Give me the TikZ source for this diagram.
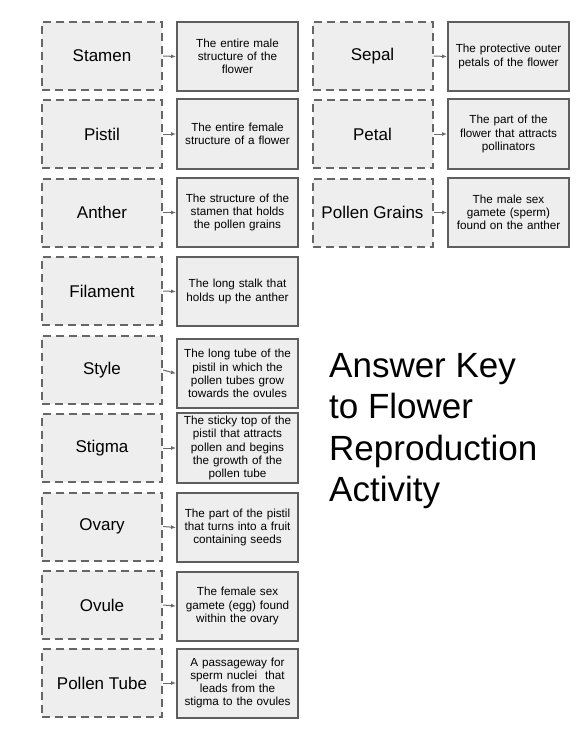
\documentclass[tikz,border=0pt]{standalone}
\usepackage{fontspec}
\setmainfont{Liberation Sans}
\usetikzlibrary{arrows.meta}
\definecolor{boxfill}{HTML}{EEEEEE}
\definecolor{dashcol}{HTML}{666666}
\definecolor{solidcol}{HTML}{5E5E5E}
\definecolor{arrcol}{HTML}{6A6A6A}
\tikzset{
  termbox/.style={draw=dashcol, fill=boxfill, line width=2pt, dash pattern=on 8pt off 5pt,
    minimum width=120pt, minimum height=68pt, inner sep=0pt,
    font=\fontsize{17}{20}\selectfont},
  defbox/.style={draw=solidcol, fill=boxfill, line width=2pt,
    minimum width=121pt, minimum height=69pt, inner sep=0pt, align=center,
    text width=114pt, font=\fontsize{11.7}{13.3}\selectfont},
  link/.style={draw=arrcol, line width=1pt, -{Latex[length=5pt,width=4pt]}},
}
\begin{document}
\begin{tikzpicture}[x=1pt,y=-1pt]
\useasboundingbox (0,0) rectangle (585,749);
% left column
\node[termbox] (t1) at (102,56) {Stamen};
\node[defbox] (d1) at (237.5,56.5) {The entire male\\structure of the\\flower};
\node[termbox] (t2) at (102,134) {Pistil};
\node[defbox] (d2) at (237.5,134) {The entire female\\structure of a flower};
\node[termbox] (t3) at (102,212.5) {Anther};
\node[defbox] (d3) at (237.5,212.5) {The structure of the\\stamen that holds\\the pollen grains};
\node[termbox] (t4) at (102,291) {Filament};
\node[defbox] (d4) at (237.5,291.5) {The long stalk that\\holds up the anther};
\node[termbox] (t5) at (102,370) {Style};
\node[defbox] (d5) at (237.5,373.5) {The long tube of the\\pistil in which the\\pollen tubes grow\\towards the ovules};
\node[termbox] (t6) at (102,448) {Stigma};
\node[defbox, minimum height=70pt] (d6) at (237.5,448) {The sticky top of the\\pistil that attracts\\pollen and begins\\the growth of the\\pollen tube};
\node[termbox] (t7) at (102,526.5) {Ovary};
\node[defbox] (d7) at (237.5,527.5) {The part of the pistil\\that turns into a fruit\\containing seeds};
\node[termbox] (t8) at (102,605) {Ovule};
\node[defbox] (d8) at (237.5,606) {The female sex\\gamete (egg) found\\within the ovary};
\node[termbox] (t9) at (102,683) {Pollen Tube};
\node[defbox] (d9) at (237.5,683) {A passageway for\\sperm nuclei\ \ that\\leads from the\\stigma to the ovules};
% right column
\node[termbox] (t10) at (372.5,56) {Sepal};
\node[defbox] (d10) at (508.5,56.5) {The protective outer\\petals of the flower};
\node[termbox] (t11) at (372.5,134) {Petal};
\node[defbox] (d11) at (508.5,134) {The part of the\\flower that attracts\\pollinators};
\node[termbox] (t12) at (372.5,212.5) {Pollen Grains};
\node[defbox] (d12) at (508.5,212.5) {The male sex\\gamete (sperm)\\found on the anther};
% connectors
\foreach \i in {1,...,12} { \draw[link] (t\i.east) -- (d\i.west); }
% title
\node[anchor=north west, inner sep=0pt, align=left, font=\fontsize{35}{41.5}\selectfont] (title) at (329,353)
  {Answer Key\\to Flower\\Reproduction\\Activity};
\end{tikzpicture}
\end{document}
